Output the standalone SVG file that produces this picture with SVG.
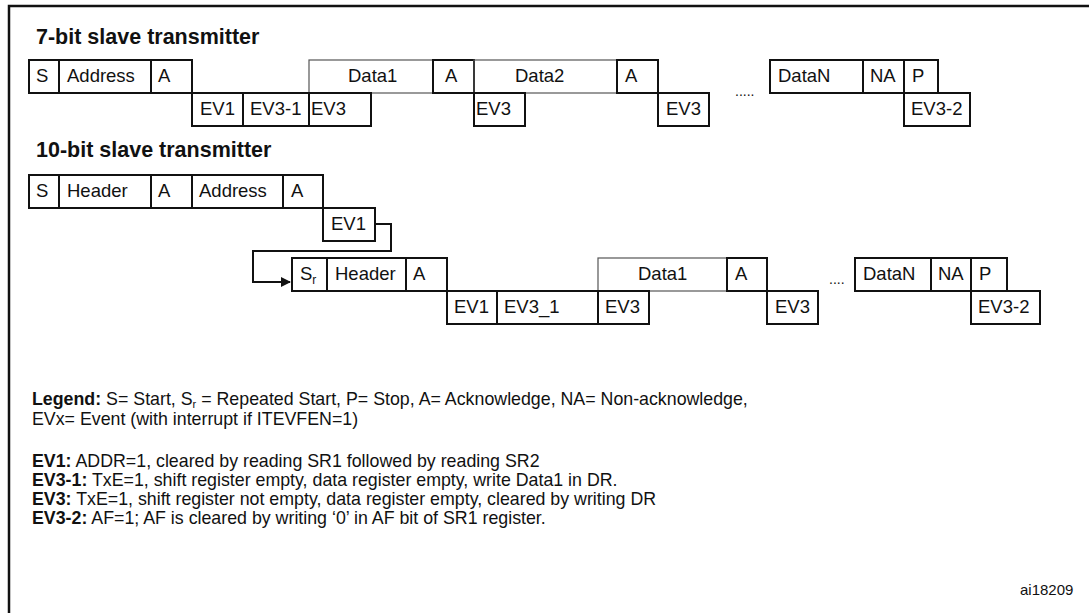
<svg xmlns="http://www.w3.org/2000/svg" width="1089" height="613" viewBox="0 0 1089 613">
<style>
text{font-family:"Liberation Sans",Arial,sans-serif;font-size:18.5px;fill:#111}
.h{font-weight:bold;font-size:21.5px}
.b{font-weight:bold}
.lg{font-size:17.8px}
rect{fill:none;stroke:#111;stroke-width:2}
.lt{stroke:#555;stroke-width:1.2}
.fr{stroke:#111;stroke-width:2.5;fill:none}
</style>
<defs><marker id="ar" markerWidth="10" markerHeight="10" refX="9" refY="5" orient="auto" markerUnits="userSpaceOnUse"><path d="M0,0L10,5L0,10Z" fill="#111"/></marker></defs>
<rect width="1089" height="613" style="fill:#fff;stroke:none"/>
<path class="fr" d="M1089,6H9V613"/>
<text class="h" x="36" y="44">7-bit slave transmitter</text>
<g id="seq7">
<rect x="29" y="60" width="30" height="33"/><text x="36" y="82">S</text>
<rect x="59" y="60" width="92" height="33"/><text x="67" y="82">Address</text>
<rect x="151" y="60" width="41" height="33"/><text x="158" y="82">A</text>
<rect class="lt" x="309" y="60" width="124" height="33"/><text x="348" y="82">Data1</text>
<rect x="433" y="60" width="41" height="33"/><text x="445" y="82">A</text>
<rect class="lt" x="474" y="60" width="143" height="33"/><text x="515" y="82">Data2</text>
<rect x="617" y="60" width="41" height="33"/><text x="625" y="82">A</text>
<rect x="192" y="93" width="51" height="33"/><text x="200" y="115">EV1</text>
<rect x="243" y="93" width="66" height="33"/><text x="250" y="115">EV3-1</text>
<rect x="309" y="93" width="62" height="33"/><text x="311" y="115">EV3</text>
<rect x="474" y="93" width="51" height="33"/><text x="476" y="115">EV3</text>
<rect x="658" y="93" width="51" height="33"/><text x="666" y="115">EV3</text>
<text x="735" y="96" style="font-size:14px">.....</text>
<rect x="770" y="60" width="93" height="33"/><text x="778" y="82">DataN</text>
<rect x="863" y="60" width="41" height="33"/><text x="870" y="82">NA</text>
<rect x="904" y="60" width="34" height="33"/><text x="912" y="82">P</text>
<rect x="904" y="93" width="66" height="33"/><text x="911" y="115">EV3-2</text>
</g>
<text class="h" x="36" y="157">10-bit slave transmitter</text>
<g id="seq10a">
<rect x="29" y="175" width="30" height="33"/><text x="36" y="197">S</text>
<rect x="59" y="175" width="92" height="33"/><text x="67" y="197">Header</text>
<rect x="151" y="175" width="41" height="33"/><text x="158" y="197">A</text>
<rect x="192" y="175" width="91" height="33"/><text x="199" y="197">Address</text>
<rect x="283" y="175" width="40" height="33"/><text x="291" y="197">A</text>
<rect x="323" y="208" width="52" height="33"/><text x="331" y="230">EV1</text>
</g>
<g id="connectors">
<path d="M375,224H391V251H253V282H290" fill="none" stroke="#111" stroke-width="2" marker-end="url(#ar)"/>
</g>
<g id="seq10b">
<rect x="292" y="258" width="35" height="33"/><text x="300" y="280">S<tspan font-size="12" dy="4">r</tspan></text>
<rect x="327" y="258" width="79" height="33"/><text x="335" y="280">Header</text>
<rect x="406" y="258" width="41" height="33"/><text x="413" y="280">A</text>
<rect class="lt" x="598" y="258" width="129" height="33"/><text x="638" y="280">Data1</text>
<rect x="727" y="258" width="40" height="33"/><text x="735" y="280">A</text>
<rect x="447" y="291" width="50" height="33"/><text x="454" y="313">EV1</text>
<rect x="497" y="291" width="101" height="33"/><text x="504" y="313">EV3_1</text>
<rect x="598" y="291" width="51" height="33"/><text x="605" y="313">EV3</text>
<rect x="767" y="291" width="51" height="33"/><text x="775" y="313">EV3</text>
<text x="829" y="284" style="font-size:14px">....</text>
<rect x="855" y="258" width="76" height="33"/><text x="863" y="280">DataN</text>
<rect x="931" y="258" width="40" height="33"/><text x="938" y="280">NA</text>
<rect x="971" y="258" width="36" height="33"/><text x="979" y="280">P</text>
<rect x="971" y="291" width="69" height="33"/><text x="978" y="313">EV3-2</text>
</g>
<g id="legend" class="lg">
<text class="lg" x="32" y="405"><tspan class="b">Legend:</tspan> S= Start, S<tspan font-size="11" dy="3">r</tspan><tspan dy="-3"> = Repeated Start, P= Stop, A= Acknowledge, NA= Non-acknowledge,</tspan></text>
<text class="lg" x="32" y="425">EVx= Event (with interrupt if ITEVFEN=1)</text>
<text class="lg" x="32" y="467"><tspan class="b">EV1:</tspan> ADDR=1, cleared by reading SR1 followed by reading SR2</text>
<text class="lg" x="32" y="486"><tspan class="b">EV3-1:</tspan> TxE=1, shift register empty, data register empty, write Data1 in DR.</text>
<text class="lg" x="32" y="505"><tspan class="b">EV3:</tspan> TxE=1, shift register not empty, data register empty, cleared by writing DR</text>
<text class="lg" x="32" y="524"><tspan class="b">EV3-2:</tspan> AF=1; AF is cleared by writing ‘0’ in AF bit of SR1 register.</text>
<text x="1020" y="595" style="font-size:15px">ai18209</text>
</g>
</svg>
